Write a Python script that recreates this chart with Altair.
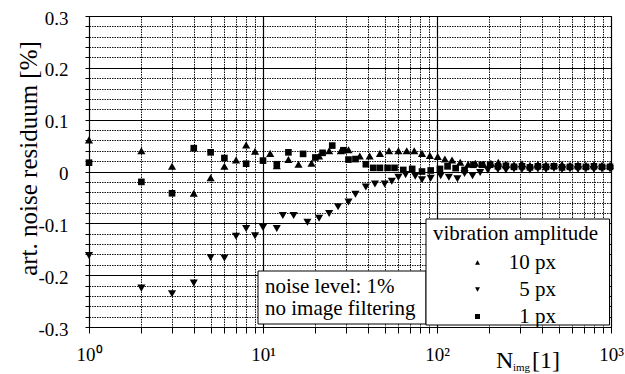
import altair as alt
import pandas as pd

FONT = "Liberation Serif, Times New Roman, Times, serif"

series_names = ["10 px", "5 px", "1 px"]

# vibration amplitude 10 px (up triangles)
n_10px = [1, 2, 3, 4, 5, 6, 7, 8, 9, 11, 12, 14, 16, 19, 21, 24, 28, 31, 36, 41,
          47, 53, 60, 67, 74, 82, 91, 101, 111, 122, 136, 151, 166, 185, 204, 225,
          249, 277, 308, 342, 380, 423, 470, 523, 581, 646, 718, 798, 888, 987]
v_10px = [0.061, 0.040, 0.010, -0.042, -0.012, 0.010, 0.022, 0.051, 0.039, 0.035,
          0.011, 0.023, 0.014, 0.016, 0.030, 0.040, 0.040, 0.042, 0.030, 0.030,
          0.035, 0.040, 0.040, 0.040, 0.040, 0.035, 0.031, 0.029, 0.024, 0.022,
          0.018, 0.014, 0.016, 0.014, 0.016, 0.018, 0.014, 0.013, 0.015, 0.012,
          0.014, 0.013, 0.012, 0.014, 0.012, 0.013, 0.012, 0.013, 0.012, 0.012]

# vibration amplitude 5 px (down triangles)
n_5px = [1, 2, 3, 4, 5, 6, 7, 8, 9, 10, 12, 13, 15, 18, 21, 24, 27, 31, 34, 39,
         44, 50, 55, 60, 66, 75, 82, 92, 105, 117, 131, 144, 160, 177, 196, 224,
         249, 277, 308, 342, 380, 423, 470, 523, 581, 646, 718, 798, 888, 987]
v_5px = [-0.162, -0.225, -0.236, -0.215, -0.166, -0.167, -0.125, -0.110, -0.124,
         -0.108, -0.110, -0.085, -0.085, -0.098, -0.090, -0.081, -0.068, -0.059,
         -0.044, -0.030, -0.024, -0.024, -0.019, -0.011, -0.006, -0.009, -0.016,
         -0.013, -0.008, -0.011, -0.014, -0.004, -0.008, -0.002, 0.003, 0.004,
         0.003, 0.005, 0.004, 0.003, 0.005, 0.004, 0.006, 0.004, 0.005, 0.004,
         0.005, 0.004, 0.005, 0.005]

# vibration amplitude 1 px (squares)
n_1px = [1, 2, 3, 4, 5, 6, 8, 10, 12, 14, 17, 20, 22, 25, 29, 31, 34, 39, 43, 47,
         52, 57, 64, 72, 82, 92, 104, 115, 128, 144, 162, 181, 202, 224, 249, 277,
         308, 342, 380, 423, 470, 523, 581, 646, 718, 798, 888, 987]
v_1px = [0.017, -0.020, -0.042, 0.045, 0.037, 0.026, 0.015, 0.021, 0.014, 0.037,
         0.034, 0.027, 0.036, 0.050, 0.041, 0.023, 0.024, 0.014, 0.007, 0.007,
         0.007, 0.007, 0.003, 0.005, 0.000, 0.002, 0.005, 0.010, 0.0065, 0.003,
         0.013, 0.013, 0.013, 0.010, 0.011, 0.009, 0.010, 0.008, 0.010, 0.009,
         0.010, 0.008, 0.009, 0.010, 0.009, 0.010, 0.009, 0.009]

x_ticks = [1, 2, 3, 4, 5, 6, 7, 8, 9,
           10, 20, 30, 40, 50, 60, 70, 80, 90,
           100, 200, 300, 400, 500, 600, 700, 800, 900, 1000]
y_ticks = [round(-0.3 + 0.02 * i, 2) for i in range(31)]

note_lines = ["noise level: 1%", "no image filtering"]

df = pd.concat([
    pd.DataFrame({"N": n_10px, "res": v_10px, "amp": series_names[0]}),
    pd.DataFrame({"N": n_5px, "res": v_5px, "amp": series_names[1]}),
    pd.DataFrame({"N": n_1px, "res": v_1px, "amp": series_names[2]}),
], ignore_index=True)

x_major = "datum.value == 1 || datum.value == 10 || datum.value == 100 || datum.value == 1000"
y_major = "abs(datum.value * 10 - round(datum.value * 10)) < 0.001"

x_axis = alt.Axis(
    values=x_ticks, title=None,
    labelExpr="datum.value == 1 ? '10⁰' : datum.value == 10 ? '10¹' : datum.value == 100 ? '10²' : datum.value == 1000 ? '10³' : ''",
    labelFont=FONT, labelFontSize=19, labelColor="black", labelPadding=12,
    labelOverlap=False, labelFlush=False, labelBound=False,
    tickSize=6, tickColor="black", tickWidth=1,
    domain=True, domainColor="black",
    grid=True,
    gridColor={"condition": {"test": x_major, "value": "black"}, "value": "#111111"},
    gridDash={"condition": {"test": x_major, "value": []}, "value": [1.5, 1]},
    gridWidth={"condition": {"test": x_major, "value": 1.2}, "value": 1},
)

y_axis = alt.Axis(
    values=y_ticks, title="art. noise residuum [%]",
    labelExpr="(" + y_major + ") ? (abs(datum.value) < 0.001 ? '0' : (datum.value < 0 ? '-' : '') + format(abs(datum.value), '.1f')) : ''",
    labelFont=FONT, labelFontSize=19, labelColor="black", labelPadding=17,
    labelOffset=2, labelOverlap=False, labelFlush=False, labelBound=False,
    tickSize=4, tickColor="black", tickWidth=1,
    domain=True, domainColor="black",
    grid=True,
    gridColor={"condition": {"test": y_major, "value": "black"}, "value": "#111111"},
    gridDash={"condition": {"test": y_major, "value": []}, "value": [1.5, 1]},
    gridWidth={"condition": {"test": y_major, "value": 1.2}, "value": 1},
    titleFont=FONT, titleFontSize=25, titleFontWeight="normal", titleColor="black",
    titleX=-53, titleY=142, titleAlign="center", titleBaseline="alphabetic",
)

points = alt.Chart(df).transform_calculate(
    sz="datum.amp == '1 px' ? 44 : 66"
).mark_point(filled=True, opacity=1, strokeWidth=0).encode(
    x=alt.X("N:Q", scale=alt.Scale(type="log", domain=[1, 1000], nice=False), axis=x_axis),
    y=alt.Y("res:Q", scale=alt.Scale(domain=[-0.3, 0.3], nice=False, zero=False), axis=y_axis),
    shape=alt.Shape("amp:N", scale=alt.Scale(domain=series_names,
                                             range=["triangle-up", "triangle-down", "square"]),
                    legend=alt.Legend(
                        orient="none", legendX=344, legendY=207,
                        title="vibration amplitude", titleFont=FONT, titleFontSize=21,
                        titleFontWeight="normal", titleColor="black", titlePadding=8,
                        labelFont=FONT, labelFontSize=21, labelColor="black",
                        labelAlign="right", labelOffset=68, symbolOffset=34,
                        symbolSize=25, symbolFillColor="black", symbolStrokeWidth=0,
                        rowPadding=5, padding=0)),
    size=alt.Size("sz:Q", scale=None),
    color=alt.value("black"),
)

one = pd.DataFrame({"k": [0]})

note_box = alt.Chart(one).mark_rect(fill="white", stroke="black", strokeWidth=1).encode(
    x=alt.value(169), x2=alt.value(337), y=alt.value(255), y2=alt.value(308))
legend_box = alt.Chart(one).mark_rect(fill="white", stroke="black", strokeWidth=1).encode(
    x=alt.value(337), x2=alt.value(520.5), y=alt.value(203), y2=alt.value(309))

txt = dict(align="left", baseline="alphabetic", font=FONT, color="black")
note1 = alt.Chart(one).mark_text(fontSize=21, **txt).encode(
    x=alt.value(176), y=alt.value(277), text=alt.value(note_lines[0]))
note2 = alt.Chart(one).mark_text(fontSize=21, **txt).encode(
    x=alt.value(176), y=alt.value(299), text=alt.value(note_lines[1]))

xt_n = alt.Chart(one).mark_text(fontSize=24, **txt).encode(
    x=alt.value(407), y=alt.value(352), text=alt.value("N"))
xt_sub = alt.Chart(one).mark_text(fontSize=11, **txt).encode(
    x=alt.value(424), y=alt.value(355), text=alt.value("img"))
xt_unit = alt.Chart(one).mark_text(fontSize=24, **txt).encode(
    x=alt.value(443), y=alt.value(352), text=alt.value("[1]"))

chart = alt.layer(
    note_box, legend_box, points, note1, note2, xt_n, xt_sub, xt_unit
).properties(
    width=522, height=311, autosize="none",
    padding={"left": 89, "top": 16, "right": 14, "bottom": 47},
).configure(font=FONT, background="white").configure_view(stroke="black", strokeWidth=1)

chart.save("out.html", embed_options={"renderer": "svg", "actions": False})
